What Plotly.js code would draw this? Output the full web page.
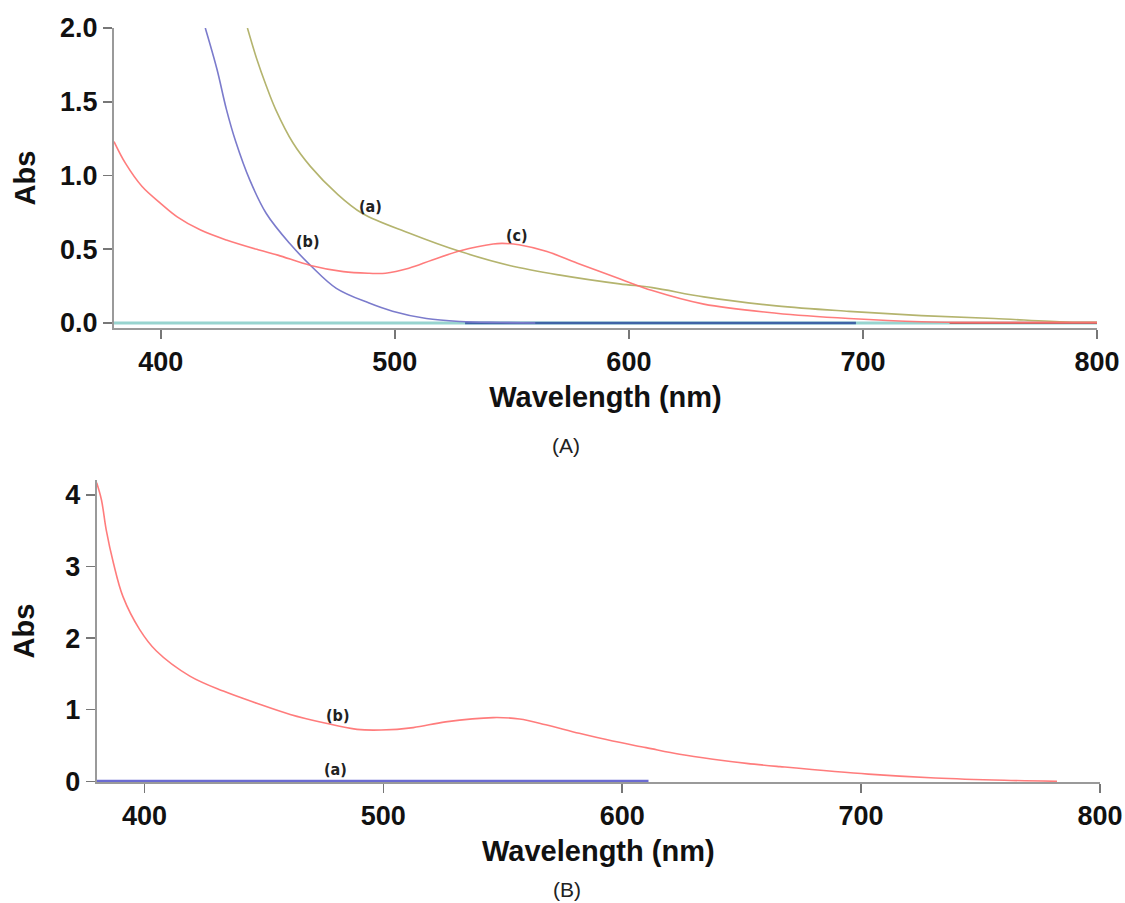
<!DOCTYPE html>
<html>
<head>
<meta charset="utf-8">
<script src="https://cdn.plot.ly/plotly-3.0.1.min.js"></script>
<style>html,body{margin:0;padding:0;background:#fff;}#chart{width:1125px;height:903px;}</style>
</head>
<body>
<div id="chart"></div>
<script>
// ---------- Panel (A) data ----------
const wlA_a = [437, 441, 445, 449, 456.5, 464, 475, 486, 506, 528, 549, 570, 596, 610, 632, 663, 694, 725, 756, 787, 800];
const absA_a = [2.0, 1.79, 1.61, 1.45, 1.22, 1.06, 0.88, 0.744, 0.61, 0.484, 0.39, 0.326, 0.265, 0.24, 0.177, 0.116, 0.079, 0.05, 0.03, 0.007, 0.005];

const wlA_b = [419, 424, 428, 432, 438, 445, 455, 464, 475, 489, 499, 513.5, 528, 545, 560];
const absA_b = [2.0, 1.72, 1.45, 1.23, 0.97, 0.744, 0.54, 0.39, 0.235, 0.135, 0.08, 0.03, 0.01, 0.003, 0.0];

const wlA_c = [380, 385, 392, 400, 407, 417, 428, 442, 450, 464, 478, 489, 496, 506, 516, 528, 542, 546, 553, 565, 578, 596, 610, 632, 663, 694, 725, 760, 800];
const absA_c = [1.23, 1.08, 0.925, 0.81, 0.72, 0.63, 0.563, 0.495, 0.46, 0.39, 0.348, 0.337, 0.337, 0.371, 0.427, 0.49, 0.536, 0.54, 0.53, 0.484, 0.405, 0.30, 0.22, 0.128, 0.066, 0.03, 0.008, 0.004, 0.004];

const wlA_base = [380, 800];
const absA_base = [0, 0];
const wlA_base2 = [530, 697];
const absA_base2 = [0, 0];
const wlA_base3 = [737, 800];
const absA_base3 = [0, 0];

// ---------- Panel (B) data ----------
const wlB_a = [380, 611];
const absB_a = [0, 0];

const wlB_b = [380, 382, 384, 387, 391, 398, 405, 419, 433, 447, 461, 475, 489, 499, 512.5, 526, 546, 557, 568, 582, 596, 610, 624, 638, 652, 666, 703, 731, 760, 782];
const absB_b = [4.17, 3.93, 3.51, 3.05, 2.58, 2.12, 1.82, 1.47, 1.26, 1.09, 0.934, 0.818, 0.725, 0.716, 0.75, 0.83, 0.89, 0.87, 0.79, 0.67, 0.562, 0.47, 0.377, 0.307, 0.25, 0.205, 0.10, 0.046, 0.014, 0.0];

const xTicks = [400, 500, 600, 700, 800];
const yTicksA = [0, 0.5, 1.0, 1.5, 2.0];
const yTicksALabels = ['0.0', '0.5', '1.0', '1.5', '2.0'];
const yTicksB = [0, 1, 2, 3, 4];

const curveLabelsA = [{t: '(a)', x: 489.5, y: 0.79}, {t: '(b)', x: 462.5, y: 0.55}, {t: '(c)', x: 552, y: 0.595}];
const curveLabelsB = [{t: '(b)', x: 481, y: 0.92}, {t: '(a)', x: 480, y: 0.17}];

const RED = 'rgba(255,110,110,0.9)';
const traces = [
  {x: wlA_base, y: absA_base, xaxis: 'x', yaxis: 'y', mode: 'lines', line: {color: '#98d4cf', width: 3}, hoverinfo: 'skip'},
  {x: wlA_base2, y: absA_base2, xaxis: 'x', yaxis: 'y', mode: 'lines', line: {color: '#3f64a6', width: 2.5}, hoverinfo: 'skip'},
  {x: wlA_base3, y: absA_base3, xaxis: 'x', yaxis: 'y', mode: 'lines', line: {color: '#b86a6a', width: 2}, hoverinfo: 'skip'},
  {x: wlA_b, y: absA_b, xaxis: 'x', yaxis: 'y', mode: 'lines', line: {color: '#7b7bcc', width: 1.6, shape: 'spline'}, name: '(b)'},
  {x: wlA_a, y: absA_a, xaxis: 'x', yaxis: 'y', mode: 'lines', line: {color: '#b4b46e', width: 1.6, shape: 'spline'}, name: '(a)'},
  {x: wlA_c, y: absA_c, xaxis: 'x', yaxis: 'y', mode: 'lines', line: {color: RED, width: 1.6, shape: 'spline'}, name: '(c)'},
  {x: wlB_a, y: absB_a, xaxis: 'x2', yaxis: 'y2', mode: 'lines', line: {color: '#6b6bd2', width: 3}, name: '(a)'},
  {x: wlB_b, y: absB_b, xaxis: 'x2', yaxis: 'y2', mode: 'lines', line: {color: RED, width: 1.6, shape: 'spline'}, name: '(b)'}
];

const tickFont = {family: 'Liberation Sans, Arial, sans-serif', size: 27, color: '#111', weight: 'bold'};
const titleFont = {family: 'Liberation Sans, Arial, sans-serif', size: 29, color: '#111', weight: 'bold'};
const axisCommon = {
  showgrid: false, zeroline: false, showline: true, linecolor: '#9a9a9a', linewidth: 2,
  ticks: 'outside', ticklen: 9, tickwidth: 1.5, tickcolor: '#777', tickfont: tickFont
};

const labelFont = {family: 'Liberation Sans Narrow, DejaVu Sans Condensed, Liberation Sans, sans-serif', size: 16, color: '#222', weight: 'bold'};
const annotations = [];
curveLabelsA.forEach(l => annotations.push({x: l.x, y: l.y, xref: 'x', yref: 'y', text: l.t, showarrow: false, font: labelFont}));
curveLabelsB.forEach(l => annotations.push({x: l.x, y: l.y, xref: 'x2', yref: 'y2', text: l.t, showarrow: false, font: labelFont}));
annotations.push({x: 566 / 1125, y: 1 - 445 / 903, xref: 'paper', yref: 'paper', xanchor: 'center', yanchor: 'middle', text: '(A)', showarrow: false, font: {family: 'Liberation Sans, Arial, sans-serif', size: 21, color: '#222'}});
annotations.push({x: 567 / 1125, y: 1 - 889 / 903, xref: 'paper', yref: 'paper', xanchor: 'center', yanchor: 'middle', text: '(B)', showarrow: false, font: {family: 'Liberation Sans, Arial, sans-serif', size: 21, color: '#222'}});

const layout = {
  width: 1125, height: 903,
  margin: {l: 0, r: 0, t: 0, b: 0},
  paper_bgcolor: '#fff', plot_bgcolor: '#fff',
  showlegend: false,
  xaxis: Object.assign({}, axisCommon, {domain: [114 / 1125, 1097 / 1125], range: [380, 800], tickvals: xTicks, anchor: 'y',
    title: {text: 'Wavelength (nm)', font: titleFont, standoff: 10}}),
  yaxis: Object.assign({}, axisCommon, {domain: [1 - 328 / 903, 1 - 28 / 903], range: [-0.034, 2.0], tickvals: yTicksA, ticktext: yTicksALabels, anchor: 'x',
    title: {text: 'Abs', font: titleFont, standoff: 16}}),
  xaxis2: Object.assign({}, axisCommon, {domain: [96.7 / 1125, 1100 / 1125], range: [380, 800], tickvals: xTicks, anchor: 'y2',
    title: {text: 'Wavelength (nm)', font: titleFont, standoff: 10}}),
  yaxis2: Object.assign({}, axisCommon, {domain: [1 - 782 / 903, 1 - 480 / 903], range: [-0.01, 4.21], tickvals: yTicksB, anchor: 'x2',
    title: {text: 'Abs', font: titleFont, standoff: 22}}),
  annotations: annotations
};

Plotly.newPlot('chart', traces, layout, {staticPlot: true, displayModeBar: false});
</script>
</body>
</html>
